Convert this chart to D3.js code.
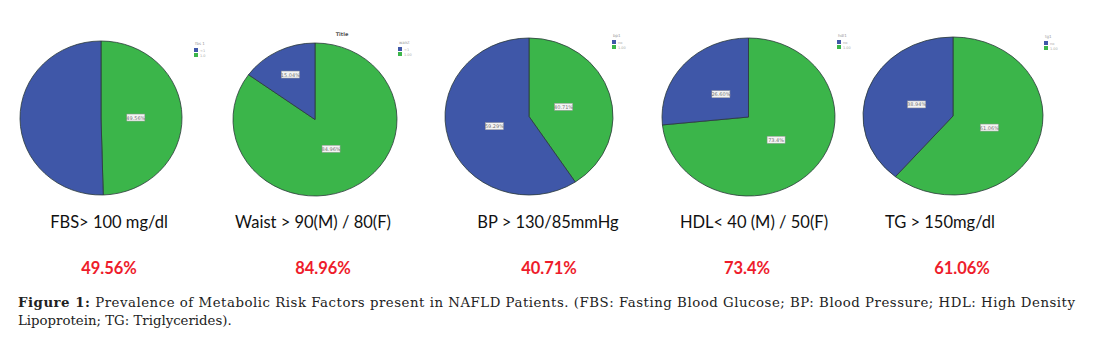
<!DOCTYPE html>
<html>
<head>
<meta charset="utf-8">
<script src="https://cdn.jsdelivr.net/npm/d3@7/dist/d3.min.js"></script>
<style>
  html, body { margin: 0; padding: 0; background: #fff; }
  svg { display: block; }
</style>
</head>
<body>
<svg id="chart" width="1093" height="344"></svg>
<script>
// ---------------- DATA ----------------
const categories = ["FBS> 100 mg/dl", "Waist > 90(M) / 80(F)", "BP > 130/85mmHg", "HDL< 40 (M) / 50(F)", "TG > 150mg/dl"];
const prevalence = [49.56, 84.96, 40.71, 73.4, 61.06];           // green slice (risk present)
const prevalenceLabels = ["49.56%", "84.96%", "40.71%", "73.4%", "61.06%"];
const legendTitles = ["fbs 1", "waist", "bp1", "hdl1", "tg1"];
const legendItems = [["<1", "1.0"], ["<1", "1.00"], ["no", "1.00"], ["no", "1.00"], ["no", "1.00"]];
const pieTitles = ["", "Title", "", "", ""];
const showAbsentLabel = [false, true, true, true, true];
const captionBold = "Figure 1:";
const captionLine1 = " Prevalence of Metabolic Risk Factors present in NAFLD Patients. (FBS: Fasting Blood Glucose; BP: Blood Pressure; HDL: High Density";
const captionLine2 = "Lipoprotein; TG: Triglycerides).";

// ---------------- LAYOUT ----------------
const layout = [
  { cx: 101, cy: 118, rx: 81, ry: 77 },
  { cx: 315, cy: 119.5, rx: 82, ry: 76.5 },
  { cx: 529, cy: 116.5, rx: 84, ry: 78.5 },
  { cx: 748.5, cy: 117, rx: 86.5, ry: 79 },
  { cx: 953, cy: 116, rx: 90, ry: 79 }
];
const labelX = [109, 313, 548, 754, 940];
const pctX = [109, 323, 549, 747, 962];
const legendPos = [[194, 45], [398, 44], [612, 37], [837, 37], [1044, 38]];
const colors = { present: "#3bb54a", absent: "#3f57a8" };

const svg = d3.select("#chart");

const pie = d3.pie().sort(null).value(d => d.value);

categories.forEach((cat, i) => {
  const L = layout[i];
  const data = [
    { key: "present", value: prevalence[i], text: prevalenceLabels[i] },
    { key: "absent", value: +(100 - prevalence[i]).toFixed(2), text: (100 - prevalence[i]).toFixed(2) + "%" }
  ];
  const arcs = pie(data);
  const arc = d3.arc().innerRadius(0).outerRadius(L.ry);
  const g = svg.append("g")
    .attr("transform", `translate(${L.cx},${L.cy}) scale(${L.rx / L.ry},1)`);

  g.selectAll("path").data(arcs).join("path")
    .attr("d", arc)
    .attr("fill", d => colors[d.data.key])
    .attr("stroke", "#2b3a3a")
    .attr("stroke-width", 0.8)
    .attr("vector-effect", "non-scaling-stroke");

  // slice value labels (tiny white boxes)
  const lg = svg.append("g").attr("transform", `translate(${L.cx},${L.cy})`);
  arcs.forEach(a => {
    if (a.data.key === "absent" && !showAbsentLabel[i]) return;
    const frac = a.data.value < 20 ? 0.66 : 0.43;
    const mid = (a.startAngle + a.endAngle) / 2;
    const x = Math.sin(mid) * L.rx * frac;
    const y = -Math.cos(mid) * L.ry * frac;
    lg.append("rect").attr("x", x - 9).attr("y", y - 3.5).attr("width", 18).attr("height", 7)
      .attr("fill", "#f4f4f4").attr("stroke", "#999").attr("stroke-width", 0.5);
    lg.append("text").attr("x", x).attr("y", y + 2).attr("text-anchor", "middle")
      .attr("font-family", "DejaVu Sans").attr("font-size", 5).attr("fill", "#777")
      .text(a.data.text);
  });

  if (pieTitles[i]) {
    svg.append("text").attr("x", L.cx + 27).attr("y", 36).attr("text-anchor", "middle")
      .attr("font-family", "DejaVu Sans").attr("font-weight", "bold").attr("font-size", 5).attr("fill", "#555")
      .text(pieTitles[i]);
  }

  // legend
  const [lx, ly] = legendPos[i];
  const leg = svg.append("g").attr("transform", `translate(${lx},${ly})`);
  leg.append("text").attr("x", 1).attr("y", 0).attr("font-family", "DejaVu Sans").attr("font-size", 4)
    .attr("fill", "#999").text(legendTitles[i]);
  ["absent", "present"].forEach((k, j) => {
    leg.append("rect").attr("x", 0).attr("y", 3 + j * 5).attr("width", 4).attr("height", 4)
      .attr("fill", colors[k]);
    leg.append("text").attr("x", 6).attr("y", 6.5 + j * 5).attr("font-family", "DejaVu Sans")
      .attr("font-size", 3.5).attr("fill", "#aaa").text(legendItems[i][j]);
  });

  // category label
  svg.append("text").attr("x", labelX[i]).attr("y", 228).attr("text-anchor", "middle")
    .attr("font-family", "Lato, 'Open Sans', sans-serif").attr("font-size", 16.5).attr("fill", "#111")
    .text(cat);

  // percentage
  svg.append("text").attr("x", pctX[i]).attr("y", 274).attr("text-anchor", "middle")
    .attr("font-family", "Lato, 'Open Sans', sans-serif").attr("font-weight", "bold").attr("font-size", 16.5)
    .attr("fill", "#ee1c2b")
    .text(prevalenceLabels[i]);
});

// caption
const cap = svg.append("text").attr("x", 18).attr("y", 307)
  .attr("font-family", "'DejaVu Serif', Georgia, serif").attr("font-size", 13.3).attr("fill", "#222")
  .attr("textLength", 1057).attr("lengthAdjust", "spacing");
cap.append("tspan").attr("font-weight", "bold").text(captionBold);
cap.append("tspan").text(captionLine1);
svg.append("text").attr("x", 18).attr("y", 325)
  .attr("font-family", "'DejaVu Serif', Georgia, serif").attr("font-size", 13.3).attr("fill", "#222")
  .text(captionLine2);
</script>
</body>
</html>
